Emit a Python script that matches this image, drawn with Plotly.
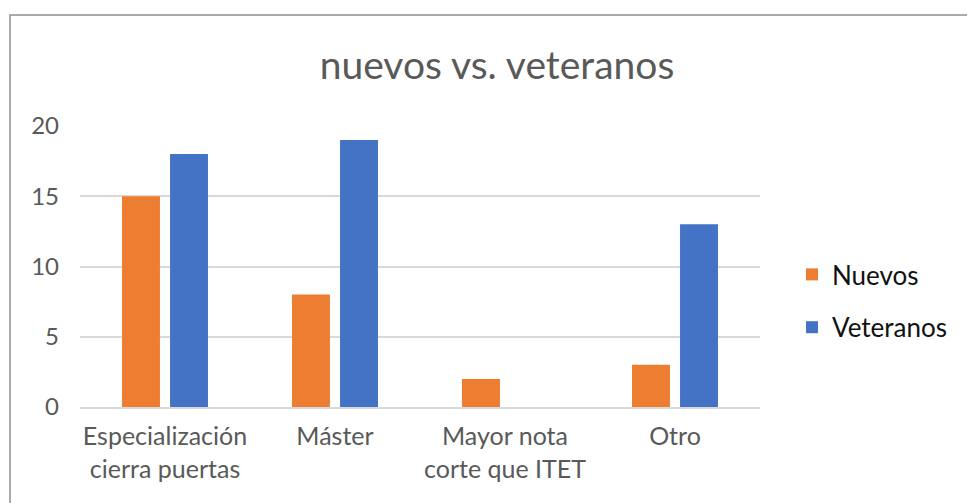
import plotly.graph_objects as go

categories = ["Especialización<br>cierra puertas", "Máster", "Mayor nota<br>corte que ITET", "Otro"]
nuevos = [15, 8, 2, 3]
veteranos = [18, 19, 0, 13]
y_ticks = [0, 5, 10, 15, 20]

# page body has an 8px margin; work in page pixels and shift
O = 8
W, H = 975 - O, 503 - O
PL, PR, PT, PB = 80, 760, 126, 407  # plot area in page pixels
L, T = PL - O, PT - O
R = W - (PR - O)
B = H - (PB - O)
pw, ph = W - L - R, H - T - B

def px_x(x):
    return (x - O - L) / pw

def px_y(y):
    return (H - B - (y - O)) / ph

fig = go.Figure()
fig.add_trace(go.Bar(name="Nuevos", x=categories, y=nuevos, marker_color="#ED7D31",
                     marker_line_width=0, legendgroup="a"))
fig.add_trace(go.Bar(name="Veteranos", x=categories, y=veteranos, marker_color="#4472C4",
                     marker_line_width=0, legendgroup="b"))

fig.update_layout(
    width=W, height=H,
    margin=dict(l=L, r=R, t=T, b=B),
    paper_bgcolor="white", plot_bgcolor="white",
    font=dict(family="Lato", color="#595959"),
    title=dict(text="nuevos vs. veteranos", x=(497 - O) / W, xanchor="center",
               y=1 - (65 - O) / H, yanchor="middle",
               font=dict(size=39, color="#595959", family="Lato")),
    barmode="group", bargap=0.435, bargroupgap=0.21,
    showlegend=True,
    legend=dict(x=px_x(792), y=px_y(301), xanchor="left", yanchor="middle",
                font=dict(size=26, color="#111111"), traceorder="grouped", tracegroupgap=16,
                bgcolor="rgba(0,0,0,0)"),
    xaxis=dict(showgrid=False, showline=True, linecolor="#d9d9d9", linewidth=2,
               layer="above traces",
               tickfont=dict(size=25, color="#595959"), ticks="", ticklabelstandoff=6),
    yaxis=dict(range=[0, 20], tickvals=y_ticks, showgrid=True, gridcolor="#d9d9d9", gridwidth=2,
               zeroline=False, showline=False, ticks="",
               tickfont=dict(size=24, color="#595959"), ticklabelstandoff=20),
    shapes=[dict(type="rect", xref="paper", yref="paper",
                 x0=px_x(10), x1=px_x(1000), y0=px_y(530), y1=px_y(15),
                 line=dict(color="#8f8f8f", width=1.5), fillcolor="rgba(0,0,0,0)", layer="below")],
)

fig.write_html("out.html")
